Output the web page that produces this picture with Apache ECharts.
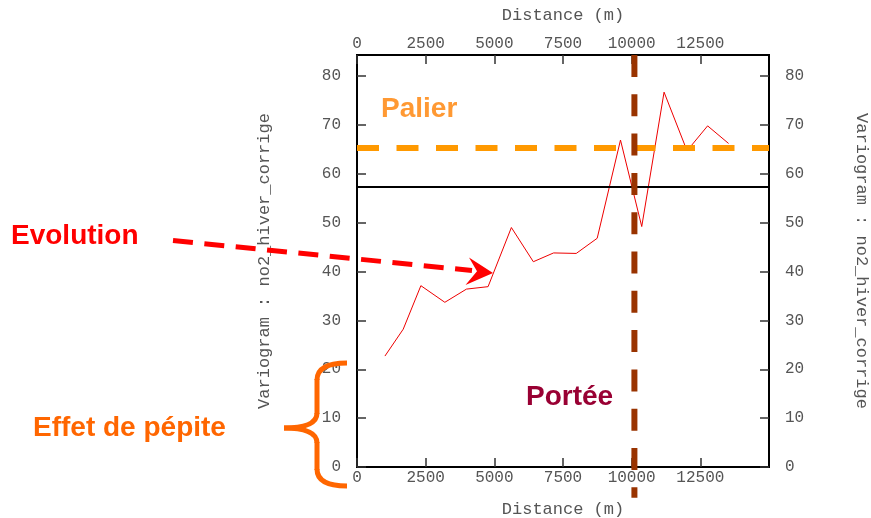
<!DOCTYPE html>
<html>
<head>
<meta charset="utf-8">
<script src="https://cdn.jsdelivr.net/npm/echarts@6/dist/echarts.min.js"></script>
<style>
	html, body { margin: 0; padding: 0; background: #fff; }
	#main { width: 871px; height: 518px; }
</style>
</head>
<body>
<div id="main"></div>
<script>
// variogramme experimental : no2_hiver_corrige
var distances = [1017, 1683, 2326, 3198, 3985, 4772, 5621, 6420, 7158, 7982, 8745, 9593, 10367, 11180, 12016, 12765, 13528];
var gammaValues = [22.7, 28.2, 37.1, 33.7, 36.4, 36.9, 49.0, 42.0, 43.8, 43.7, 46.8, 66.9, 49.2, 76.7, 64.7, 69.8, 66.2];
var palierValue = 65.4;     // palier (ligne orange)
var varianceValue = 57.3;   // variance (ligne noire)
var porteeValue = 10100;    // portee (ligne brune)
var xMax = 15000, xStep = 2500;
var yMax = 84.3, yStep = 10;

var monoFont = '"Liberation Mono", "DejaVu Sans Mono", monospace';
var boldFont = 'bold 28px "Liberation Sans", Arial, sans-serif';

function plainNum(v) {
	return String(v);
}

function xAxisCfg(pos, gap) {
	return {
		type : 'value',
		position : pos,
		min : 0,
		max : xMax,
		interval : xStep,
		name : 'Distance (m)',
		nameLocation : 'middle',
		nameGap : gap,
		nameTextStyle : { fontFamily : monoFont, fontSize : 17, color : '#555' },
		axisLine : { show : true, onZero : false, lineStyle : { color : '#000', width : 2 } },
		axisTick : { show : true, inside : true, length : 9, lineStyle : { color : '#333', width : 1.5 } },
		axisLabel : { margin : 3, showMaxLabel : false, formatter : plainNum, fontFamily : monoFont, fontSize : 16, color : '#555' },
		splitLine : { show : false }
	};
}
function yAxisCfg(pos, rot) {
	return {
		type : 'value',
		position : pos,
		min : 0,
		max : yMax,
		interval : yStep,
		name : 'Variogram : no2_hiver_corrige',
		nameLocation : 'middle',
		nameGap : 84,
		nameRotate : rot,
		nameTextStyle : { fontFamily : monoFont, fontSize : 17, color : '#555' },
		axisLine : { show : true, onZero : false, lineStyle : { color : '#000', width : 2 } },
		axisTick : { show : true, inside : true, length : 9, lineStyle : { color : '#333', width : 1.5 } },
		axisLabel : { margin : 16, showMaxLabel : false, formatter : plainNum, fontFamily : monoFont, fontSize : 16, color : '#555' },
		splitLine : { show : false }
	};
}

var points = [];
for (var i = 0; i < distances.length; i++) {
	points.push([distances[i], gammaValues[i]]);
}

var dom = document.getElementById('main');
var myChart = echarts.init(dom, null, { renderer : 'canvas' });
var option = {
	animation : false,
	backgroundColor : '#fff',
	grid : {
		left : 357, right : 102, top : 55, bottom : 51,
		show : true, borderColor : '#000', borderWidth : 2,
		outerBoundsMode : 'none'
	},
	xAxis : [ xAxisCfg('bottom', 34), xAxisCfg('top', 31) ],
	yAxis : [ yAxisCfg('left', 90), yAxisCfg('right', -90) ],
	series : [
		{
			name : 'variogram',
			type : 'line',
			data : points,
			symbol : 'none',
			lineStyle : { color : '#ee0000', width : 1 },
			z : 3,
			markLine : {
				silent : true,
				symbol : 'none',
				label : { show : false },
				data : [
					{ yAxis : varianceValue, lineStyle : { color : '#000', width : 2, type : 'solid' } },
					{ yAxis : palierValue, lineStyle : { color : '#ff9900', width : 6, type : [22, 17.5] } }
				]
			}
		}
	]
};
myChart.setOption(option);

// annotations
var px = myChart.convertToPixel({ xAxisIndex : 0 }, porteeValue);
var pyTop = myChart.convertToPixel({ yAxisIndex : 0 }, yMax);
var pyBottom = myChart.convertToPixel({ yAxisIndex : 0 }, -6.3);
var orange = '#ff6600';

myChart.setOption({
	graphic : [
		{
			type : 'line', z : 100, silent : true,
			shape : { x1 : px, y1 : pyTop, x2 : px, y2 : pyBottom },
			style : { stroke : '#993300', lineWidth : 6, lineDash : [22, 17.3] }
		},
		// fleche "Evolution"
		{
			type : 'line', z : 100, silent : true,
			shape : { x1 : 173, y1 : 240.5, x2 : 472, y2 : 270.5 },
			style : { stroke : '#ff0000', lineWidth : 5, lineDash : [20, 11.5] }
		},
		{
			type : 'polygon', z : 100, silent : true,
			shape : { points : [[493, 273], [469, 257.5], [477, 271.3], [465.5, 285]] },
			style : { fill : '#ff0000' }
		},
		// accolade "Effet de pepite"
		{
			type : 'bezierCurve', z : 100, silent : true,
			shape : { x1 : 347, y1 : 363, cpx1 : 317, cpy1 : 363, x2 : 317, y2 : 380 },
			style : { stroke : orange, lineWidth : 5, fill : null }
		},
		{
			type : 'line', z : 100, silent : true,
			shape : { x1 : 317, y1 : 379, x2 : 317, y2 : 414 },
			style : { stroke : orange, lineWidth : 5 }
		},
		{
			type : 'bezierCurve', z : 100, silent : true,
			shape : { x1 : 317, y1 : 413, cpx1 : 317, cpy1 : 428, x2 : 284, y2 : 428 },
			style : { stroke : orange, lineWidth : 5, fill : null }
		},
		{
			type : 'bezierCurve', z : 100, silent : true,
			shape : { x1 : 284, y1 : 428, cpx1 : 317, cpy1 : 428, x2 : 317, y2 : 443 },
			style : { stroke : orange, lineWidth : 5, fill : null }
		},
		{
			type : 'line', z : 100, silent : true,
			shape : { x1 : 317, y1 : 442, x2 : 317, y2 : 470 },
			style : { stroke : orange, lineWidth : 5 }
		},
		{
			type : 'bezierCurve', z : 100, silent : true,
			shape : { x1 : 317, y1 : 469, cpx1 : 317, cpy1 : 486, x2 : 347, y2 : 486 },
			style : { stroke : orange, lineWidth : 5, fill : null }
		},
		// textes
		{
			type : 'text', z : 101, silent : true,
			style : { x : 381, y : 109, text : 'Palier', font : boldFont, fill : '#ff9933', verticalAlign : 'middle' }
		},
		{
			type : 'text', z : 101, silent : true,
			style : { x : 11, y : 236, text : 'Evolution', font : boldFont, fill : '#ff0000', verticalAlign : 'middle' }
		},
		{
			type : 'text', z : 101, silent : true,
			style : { x : 526, y : 397, text : 'Portée', font : boldFont, fill : '#990033', verticalAlign : 'middle' }
		},
		{
			type : 'text', z : 101, silent : true,
			style : { x : 33, y : 428, text : 'Effet de pépite', font : boldFont, fill : orange, verticalAlign : 'middle' }
		}
	]
});
</script>
</body>
</html>
